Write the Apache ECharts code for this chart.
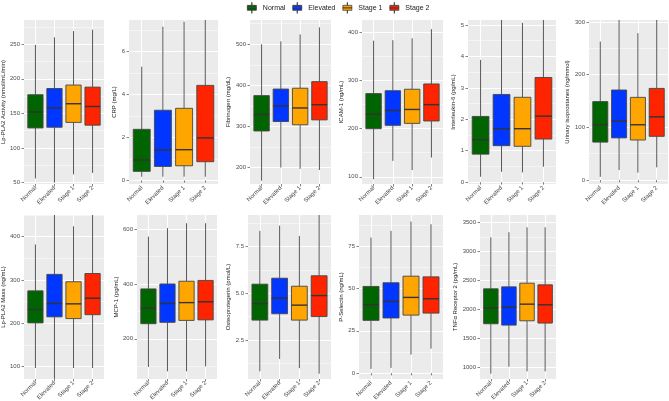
<!DOCTYPE html>
<html>
<head>
<meta charset="utf-8">
<script src="https://cdn.jsdelivr.net/npm/echarts@6/dist/echarts.min.js"></script>
<style>
html, body { margin: 0; padding: 0; background: #fff; }
#container { width: 669px; height: 401px; }
</style>
</head>
<body>
<div id="container"></div>
<script>
var groups = ['Normal', 'Elevated', 'Stage 1', 'Stage 2'];
var groupColors = ['#006400', '#0036ff', '#ffa500', '#ff2400'];

// box stats per group: [lower whisker, Q1, median, Q3, upper whisker]
var lpActivity = [[56, 129, 152, 177, 249], [50, 130, 158, 186, 260], [62, 137, 164, 191, 269], [64, 133, 160, 188, 271]];
var crp = [[0.17, 0.42, 0.95, 2.38, 5.3], [0.17, 0.65, 1.42, 3.27, 7.17], [0.17, 0.68, 1.43, 3.36, 7.4], [0.17, 0.87, 1.98, 4.43, 7.6]];
var fibrinogen = [[168, 289, 329, 375, 500], [200, 312, 350, 391, 507], [197, 304, 345, 393, 524], [194, 316, 353, 409, 541]];
var icam1 = [[95, 200, 230, 273, 383], [133, 207, 238, 279, 384], [114, 211, 240, 282, 388], [140, 216, 250, 293, 407]];
var il6 = [[0.17, 0.89, 1.35, 2.09, 3.89], [0.33, 1.16, 1.7, 2.79, 5.3], [0.31, 1.14, 1.7, 2.7, 5.07], [0.49, 1.37, 2.1, 3.33, 5.3]];
var isoprostanes = [[6, 72, 105, 149, 263], [19, 80, 112, 171, 310], [14, 76, 105, 157, 279], [24, 83, 120, 174, 310]];
var lpMass = [[97, 201, 232, 275, 382], [72, 215, 246, 313, 460], [97, 211, 245, 296, 424], [97, 220, 258, 315, 460]];
var mcp1 = [[97, 255, 312, 382, 573], [81, 260, 329, 400, 604], [81, 267, 332, 410, 622], [99, 269, 335, 413, 622]];
var osteoprotegerin = [[0.83, 3.57, 4.45, 5.49, 8.34], [1.49, 3.91, 4.74, 5.81, 8.62], [1.0, 3.57, 4.37, 5.38, 8.07], [0.7, 3.76, 4.88, 5.94, 9.3]];
var pSelectin = [[2.4, 31.2, 40.5, 51.3, 80.3], [3, 32.6, 42.4, 53.5, 84.3], [10.9, 34.3, 44.8, 57.4, 89.8], [14.4, 35.5, 44, 57, 88.2]];
var tnfr2 = [[885, 1747, 2023, 2351, 3241], [1006, 1724, 2034, 2385, 3328], [925, 1799, 2086, 2448, 3414], [925, 1759, 2075, 2420, 3414]];

var panelStats = [lpActivity, crp, fibrinogen, icam1, il6, isoprostanes, lpMass, mcp1, osteoprotegerin, pSelectin, tnfr2];
var panelTitles = [
    'Lp-PLA2 Activity (nmol/mL/min)', 'CRP (mg/L)', 'Fibrinogen (mg/dL)', 'ICAM-1 (ng/mL)',
    'Interleukin-6 (pg/mL)', 'Urinary isoprostanes (ng/mmol)', 'Lp-PLA2 Mass (ng/mL)', 'MCP-1 (pg/mL)',
    'Osteoprotegerin (pmol/L)', 'P-Selectin (ng/mL)', 'TNF\u03b1 Receptor 2 (pg/mL)'
];
var panelTicks = [
    [50, 100, 150, 200, 250], [0, 2, 4, 6], [200, 300, 400, 500], [100, 200, 300, 400],
    [0, 1, 2, 3, 4, 5], [0, 100, 200, 300], [100, 200, 300, 400], [200, 400, 600],
    [2.5, 5.0, 7.5], [0, 25, 50, 75], [1000, 1500, 2000, 2500, 3000, 3500]
];
var panelRanges = [
    [48, 285], [-0.17, 7.48], [160, 559], [85, 426], [-0.06, 5.16], [-7.6, 304],
    [71.6, 450], [53, 652], [0.42, 9.19], [-3.6, 93.7], [793, 3626]
];

// layout: [left, top, width, height] of each panel, and x of each y title
var gridRects = [
    [24, 20, 80, 164], [129, 20, 89, 164], [250, 20, 81, 164], [362, 20, 81, 164], [468, 20, 88, 164], [589, 20, 79, 164],
    [24, 215, 80, 164], [137, 215, 80, 164], [248, 215, 83, 164], [359, 215, 84, 164], [480, 215, 76, 164]
];
var titleX = [5, 115, 228, 342, 455, 567, 4, 126, 228, 342, 455];

var FONT = 'Liberation Sans';
var boxWidth = 0.8;
var lineColor = '#454545';

function minorValues(ticks, range) {
    var step = ticks[1] - ticks[0];
    var out = [];
    for (var v = ticks[0] - step / 2; v <= range[1] + 1e-9; v += step) {
        if (v >= range[0]) out.push(v);
    }
    return out;
}

function makeBoxRenderer(range) {
    function lim(v) { return Math.max(range[0], Math.min(range[1], v)); }
    return function (params, api) {
        var x = api.value(0);
        var low = api.coord([x, lim(api.value(1))]);
        var q1 = api.coord([x, api.value(2)]);
        var med = api.coord([x, api.value(3)]);
        var q3 = api.coord([x, api.value(4)]);
        var high = api.coord([x, lim(api.value(5))]);
        var half = api.size([boxWidth, 0])[0] / 2;
        var cx = q1[0];
        return {
            type: 'group',
            children: [
                { type: 'line', shape: { x1: cx, y1: high[1], x2: cx, y2: q3[1] }, style: { stroke: lineColor, lineWidth: 0.9 } },
                { type: 'line', shape: { x1: cx, y1: q1[1], x2: cx, y2: low[1] }, style: { stroke: lineColor, lineWidth: 0.9 } },
                { type: 'rect', shape: { x: cx - half, y: q3[1], width: half * 2, height: q1[1] - q3[1] },
                  style: { fill: api.visual('color'), stroke: lineColor, lineWidth: 0.9 } },
                { type: 'line', shape: { x1: cx - half, y1: med[1], x2: cx + half, y2: med[1] }, style: { stroke: '#333', lineWidth: 1.4 } }
            ]
        };
    };
}

var grids = [], xAxes = [], yAxes = [], series = [];

panelStats.forEach(function (stats, i) {
    var rect = gridRects[i];
    var range = panelRanges[i];
    var ticks = panelTicks[i];
    var decimals = ticks.some(function (t) { return t % 1 !== 0; });

    grids.push({
        left: rect[0], top: rect[1], width: rect[2], height: rect[3],
        show: true, backgroundColor: '#ebebeb', borderWidth: 0, outerBoundsMode: 'none'
    });

    xAxes.push({
        type: 'value', gridIndex: i, min: 0.4, max: 4.6,
        axisLine: { show: false },
        axisTick: { show: true, customValues: [1, 2, 3, 4], length: 2.5, lineStyle: { color: '#333', width: 0.6 } },
        axisLabel: {
            customValues: [1, 2, 3, 4], rotate: 45, margin: 3, fontSize: 6, color: '#4d4d4d', fontFamily: FONT,
            formatter: function (v) { return groups[Math.round(v) - 1]; }
        },
        splitLine: { show: true, lineStyle: { color: '#fff', width: 1 } }
    });

    yAxes.push({
        type: 'value', gridIndex: i, min: range[0], max: range[1],
        name: panelTitles[i], nameLocation: 'middle', nameGap: rect[0] - titleX[i] - 3,
        nameTextStyle: { fontSize: 6, color: '#1a1a1a', fontFamily: FONT },
        axisLine: { show: false },
        axisTick: { show: true, customValues: ticks, length: 2.5, lineStyle: { color: '#333', width: 0.6 } },
        axisLabel: {
            customValues: ticks, margin: 4, fontSize: 6, color: '#4d4d4d', fontFamily: FONT,
            formatter: function (v) { return decimals ? v.toFixed(1) : String(v); }
        },
        splitLine: { show: true, lineStyle: { color: '#fff', width: 1 } }
    });

    // minor grid lines
    yAxes.push({
        type: 'value', gridIndex: i, min: range[0], max: range[1], position: 'left',
        axisLine: { show: false },
        axisTick: { show: false, customValues: minorValues(ticks, range) },
        axisLabel: { show: false },
        splitLine: { show: true, lineStyle: { color: '#fff', width: 0.5 } }
    });

    groups.forEach(function (g, j) {
        series.push({
            type: 'custom', name: g, xAxisIndex: i, yAxisIndex: 2 * i,
            color: groupColors[j], silent: true, clip: true,
            data: [[j + 1].concat(stats[j])],
            encode: { x: 0, y: [1, 2, 3, 4, 5] },
            renderItem: makeBoxRenderer(range)
        });
    });
});

var keyIcon = 'path://M2,3L11,3L11,8L2,8Z M2,5.45L2,5.55L11,5.55L11,5.45Z M6.4,0L6.6,0L6.6,3L6.4,3Z M6.4,8L6.6,8L6.6,11L6.4,11Z';

var myChart = echarts.init(document.getElementById('container'), null, { renderer: 'canvas' });
myChart.setOption({
    animation: false,
    legend: {
        data: groups, left: 247, top: 2, padding: 0, itemWidth: 12, itemHeight: 11, itemGap: 7,
        icon: keyIcon, selectedMode: false,
        itemStyle: { borderColor: '#333', borderWidth: 0.7 },
        textStyle: { fontSize: 7, color: '#1a1a1a', fontFamily: FONT }
    },
    grid: grids,
    xAxis: xAxes,
    yAxis: yAxes,
    series: series
});
</script>
</body>
</html>
